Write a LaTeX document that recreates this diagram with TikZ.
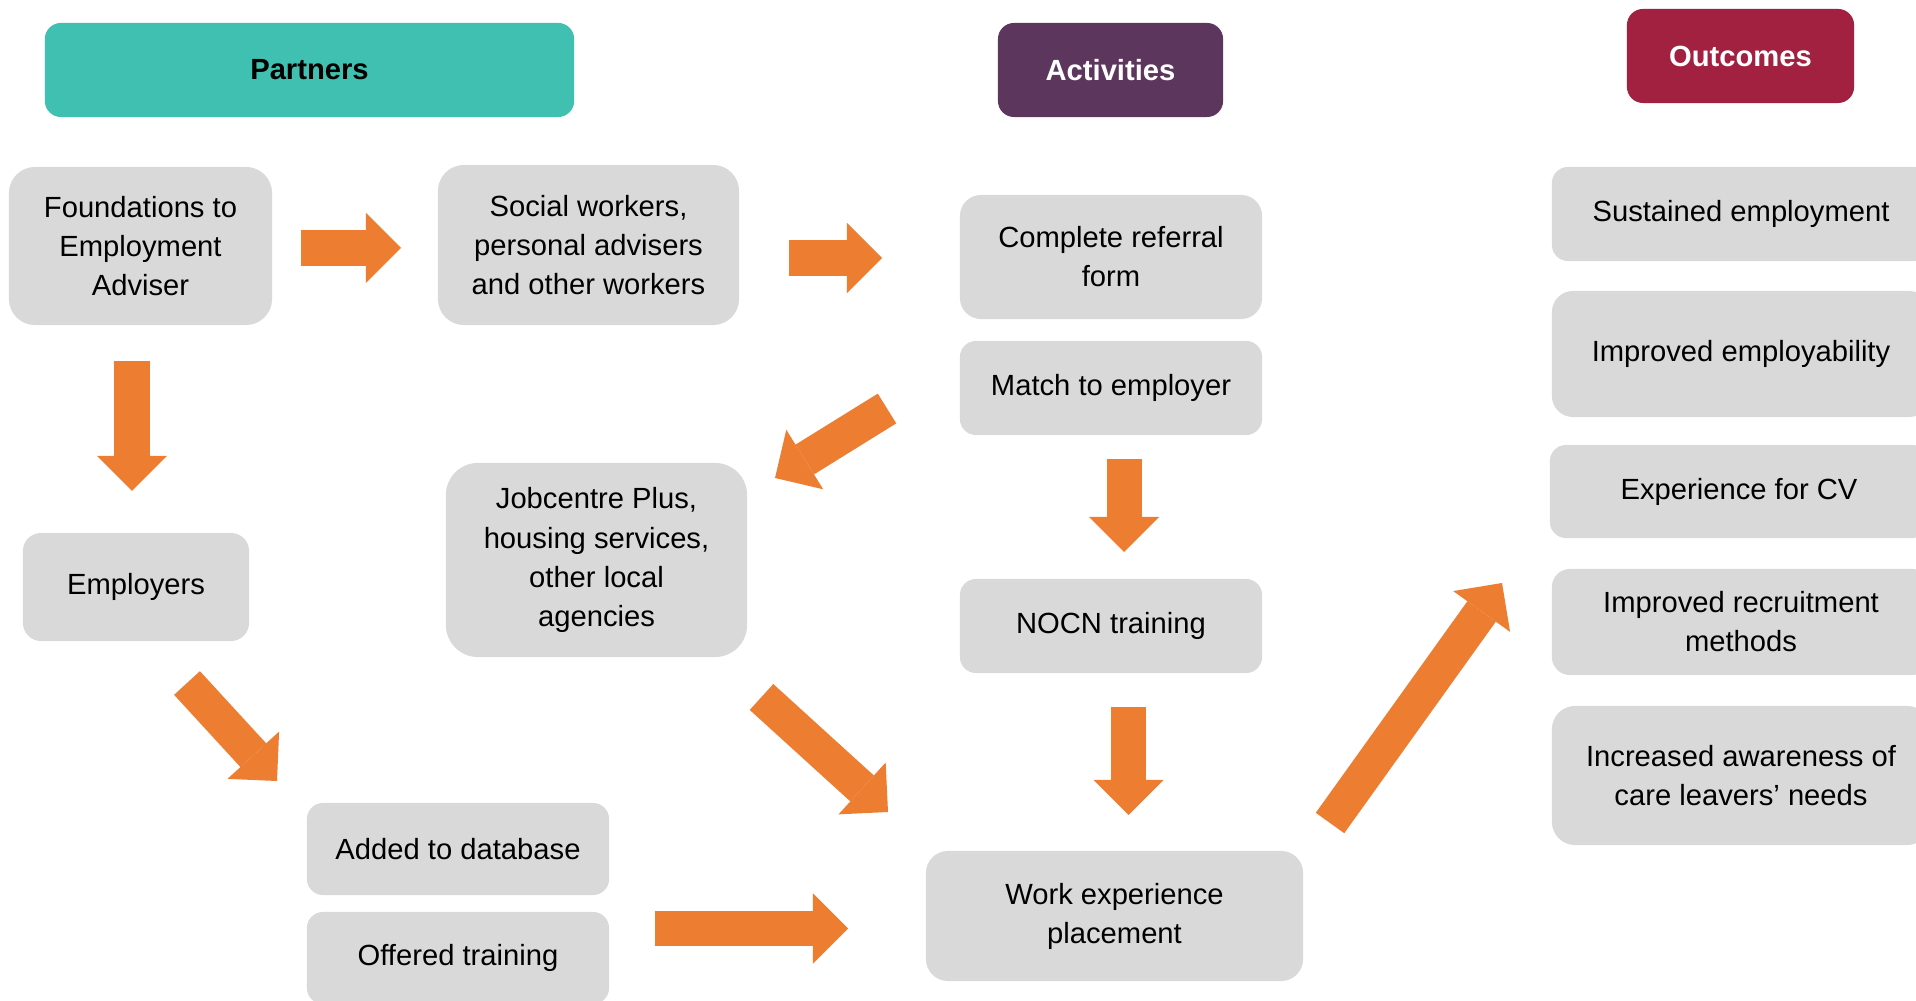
\documentclass[tikz,border=0pt]{standalone}
\usepackage{fontspec}
\setmainfont{Liberation Sans}
\definecolor{partnerteal}{RGB}{64,192,176}
\definecolor{activplum}{RGB}{93,54,94}
\definecolor{outcrimson}{RGB}{163,33,64}
\definecolor{flowarrow}{RGB}{237,125,49}
\definecolor{boxgray}{RGB}{217,217,217}
\usetikzlibrary{arrows.meta}
\tikzset{
  stage/.style={rectangle,rounded corners=#1,fill=boxgray,align=center,
                font=\fontsize{8.3}{11.1}\selectfont,inner sep=0pt},
  stage/.default=0.18cm,
  header/.style={rectangle,rounded corners=0.16cm,align=center,
                 font=\fontsize{8.3}{11.1}\selectfont\bfseries,inner sep=0pt},
  sz/.style 2 args={minimum width=#1,minimum height=#2},
  flow/.style={flowarrow,line width=0.35cm,
               -{Triangle[length=0.35cm,width=0.70cm,line width=0pt]}},
}

\begin{document}
\begin{tikzpicture}[x=0.01cm,y=-0.01cm]
  \useasboundingbox (0,0) rectangle (1916,1001);
  \clip (0,0) rectangle (1916,1001);

  % column headers
  \node[header,fill=partnerteal,sz={5.29cm}{0.94cm}] (hpart) at (309.5,70) {Partners};
  \node[header,fill=activplum,text=white,sz={2.25cm}{0.94cm}] (hact) at (1110.5,70) {Activities};
  \node[header,fill=outcrimson,text=white,sz={2.27cm}{0.94cm}] (hout) at (1740.5,56) {Outcomes};

  % partners
  \node[stage=0.26cm,sz={2.63cm}{1.58cm}] (fea) at (140.5,246) {Foundations to\\Employment\\Adviser};
  \node[stage=0.26cm,sz={3.01cm}{1.60cm}] (soc) at (588.5,245) {Social workers,\\personal advisers\\and other workers};
  \node[stage,sz={2.26cm}{1.08cm}] (emp) at (136,587) {Employers};
  \node[stage=0.32cm,sz={3.01cm}{1.94cm}] (job) at (596.5,560) {Jobcentre Plus,\\housing services,\\other local\\agencies};
  \node[stage=0.16cm,sz={3.02cm}{0.92cm}] (db) at (458,849) {Added to database};
  \node[stage=0.16cm,sz={3.02cm}{0.92cm}] (train) at (458,958) {Offered training};

  % activities
  \node[stage=0.21cm,sz={3.02cm}{1.24cm}] (ref) at (1111,257) {Complete referral\\form};
  \node[stage=0.16cm,sz={3.02cm}{0.94cm}] (match) at (1111,388) {Match to employer};
  \node[stage=0.16cm,sz={3.02cm}{0.94cm}] (nocn) at (1111,626) {NOCN training};
  \node[stage=0.22cm,sz={3.77cm}{1.30cm}] (work) at (1114.5,916) {Work experience\\placement};

  % outcomes
  \node[stage=0.16cm,sz={3.78cm}{0.94cm}] (sus) at (1741,214) {Sustained employment};
  \node[stage=0.21cm,sz={3.78cm}{1.26cm}] (empl) at (1741,354) {Improved employability};
  \node[stage=0.16cm,sz={3.78cm}{0.93cm}] (cv) at (1739,491.5) {Experience for CV};
  \node[stage=0.18cm,sz={3.78cm}{1.06cm}] (recr) at (1741,622) {Improved recruitment\\methods};
  \node[stage=0.23cm,sz={3.78cm}{1.39cm}] (aware) at (1741,775.5) {Increased awareness of\\care leavers’ needs};

  % block arrows
  \coordinate (f1) at (301,248);    \coordinate (f2) at (401,248);
  \coordinate (s1) at (789,258);    \coordinate (s2) at (882,258);
  \coordinate (d1) at (132,361);    \coordinate (d2) at (132,491);
  \coordinate (m1) at (887,408.5);  \coordinate (m2) at (775,478);
  \coordinate (e1) at (187,683);    \coordinate (e2) at (277,781);
  \coordinate (j1) at (761.5,697);  \coordinate (j2) at (888,812);
  \coordinate (t1) at (655,928.5);  \coordinate (t2) at (848,928.5);
  \coordinate (n1) at (1124,459);   \coordinate (n2) at (1124,552);
  \coordinate (w1) at (1128.5,707); \coordinate (w2) at (1128.5,815);
  \coordinate (o1) at (1330,823);   \coordinate (o2) at (1502,583);

  \foreach \a/\b in {f1/f2,s1/s2,d1/d2,m1/m2,e1/e2,j1/j2,t1/t2,n1/n2,w1/w2,o1/o2}{
    \draw[flow] (\a) -- (\b);
  }
\end{tikzpicture}
\end{document}
